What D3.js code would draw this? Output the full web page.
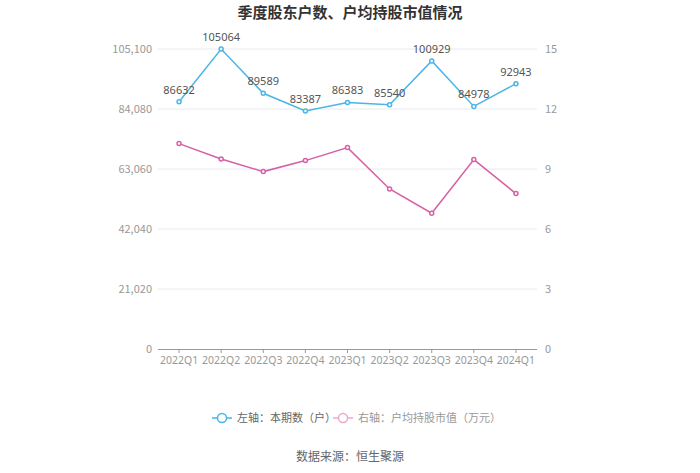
<!DOCTYPE html>
<html>
<head>
<meta charset="utf-8">
<script src="https://cdn.jsdelivr.net/npm/d3@7"></script>
<style>
body{margin:0;background:#fff;font-family:"Noto Sans CJK SC","Noto Sans",sans-serif;}
</style>
</head>
<body>
<svg id="chart"></svg>
<script>
// data
var quarters=["2022Q1","2022Q2","2022Q3","2022Q4","2023Q1","2023Q2","2023Q3","2023Q4","2024Q1"];
var holders=[86632,105064,89589,83387,86383,85540,100929,84978,92943];
var avgValue=[10.27,9.5,8.87,9.42,10.07,8.0,6.79,9.47,7.77];
var leftTicks=[0,21020,42040,63060,84080,105100];
var rightTicks=[0,3,6,9,12,15];

var w=700,h=473;
var m={l:158,r:163,t:49,b:124};
var svg=d3.select("#chart").attr("width",w).attr("height",h);

var x=d3.scaleBand().domain(quarters).range([m.l,w-m.r]);
var yL=d3.scaleLinear().domain([0,105100]).range([h-m.b,m.t]);
var yR=d3.scaleLinear().domain([0,15]).range([h-m.b,m.t]);
var cx=function(d){return x(d)+x.bandwidth()/2;};

var blue="#4ab5e6",pink="#d65fa5";

// title
svg.append("text").attr("x",w/2).attr("y",18).attr("text-anchor","middle")
	.style("font-size","15px").style("font-weight","bold").style("fill","#333")
	.text("季度股东户数、户均持股市值情况");

// grid
svg.selectAll(".grid").data(leftTicks.slice(1)).enter().append("line")
	.attr("x1",m.l).attr("x2",w-m.r)
	.attr("y1",function(d){return yL(d);}).attr("y2",function(d){return yL(d);})
	.style("stroke","#e8eaf0").style("stroke-width",1);

// axes
svg.selectAll(".ltick").data(leftTicks).enter().append("text")
	.attr("x",m.l-6).attr("y",function(d){return yL(d)+4;})
	.attr("text-anchor","end").style("font-size","11px").style("fill","#999")
	.text(function(d){return d3.format(",")(d);});
svg.selectAll(".rtick").data(rightTicks).enter().append("text")
	.attr("x",w-m.r+8).attr("y",function(d){return yR(d)+4;})
	.attr("text-anchor","start").style("font-size","11px").style("fill","#999")
	.text(function(d){return d;});

var xa=svg.append("g").attr("transform","translate(0,"+(h-m.b)+")")
	.call(d3.axisBottom(x).tickSize(4).tickPadding(4));
xa.select(".domain").style("stroke","#999").attr("d","M"+m.l+",0.5H"+(w-m.r));
xa.selectAll(".tick line").style("stroke","#999");
xa.selectAll(".tick text").style("font-size","10.5px").style("fill","#999")
	.style("font-family","'Noto Sans',sans-serif");

// lines
function series(vals,y,col){
	svg.append("path").datum(vals)
		.attr("d",d3.line().x(function(d,i){return cx(quarters[i]);}).y(function(d){return y(d);}))
		.style("fill","none").style("stroke",col).style("stroke-width",1.5);
	svg.selectAll(null).data(vals).enter().append("circle")
		.attr("cx",function(d,i){return cx(quarters[i]);})
		.attr("cy",function(d){return y(d);})
		.attr("r",2).style("fill","#fff").style("stroke",col).style("stroke-width",1.5);
}
series(holders,yL,blue);
series(avgValue,yR,pink);

svg.selectAll(".lbl").data(holders).enter().append("text")
	.attr("x",function(d,i){return cx(quarters[i]);})
	.attr("y",function(d){return yL(d)-8;})
	.attr("text-anchor","middle").style("font-size","11px").style("fill","#555")
	.style("font-family","'Noto Sans',sans-serif")
	.text(function(d){return d;});

// legend
var lg=[{t:"左轴：本期数（户）",c:blue,tc:"#666",x:212},{t:"右轴：户均持股市值（万元）",c:"#e9a9cf",tc:"#999",x:333}];
var gl=svg.selectAll(".lg").data(lg).enter().append("g")
	.attr("transform",function(d){return "translate("+d.x+",418)";});
gl.append("line").attr("x1",0).attr("x2",20).style("stroke",function(d){return d.c;}).style("stroke-width",1.5);
gl.append("circle").attr("cx",10).attr("r",4.5).style("fill","#fff").style("stroke",function(d){return d.c;}).style("stroke-width",1.5);
gl.append("text").attr("x",25).attr("y",4).style("font-size","11px").style("fill",function(d){return d.tc;}).text(function(d){return d.t;});

// source
svg.append("text").attr("x",w/2).attr("y",461).attr("text-anchor","middle")
	.style("font-size","12px").style("fill","#666").text("数据来源：恒生聚源");
</script>
</body>
</html>
